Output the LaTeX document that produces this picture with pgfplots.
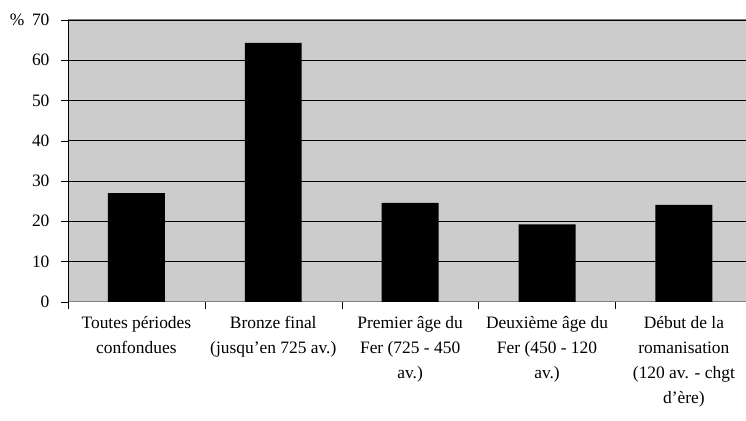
\documentclass[border=0pt]{standalone}
\usepackage{pgfplots}
\pgfplotsset{compat=1.18}
\usepackage{fontspec}
\setmainfont{Liberation Serif}
\definecolor{plotgray}{RGB}{204,204,204}
\definecolor{framegray}{RGB}{128,128,128}
\begin{document}
\begin{tikzpicture}
\begin{axis}[
    name=ax,
    scale only axis,
    width=678bp, height=282bp,
    xmin=-0.5, xmax=4.45,
    ymin=0, ymax=70,
    ytick={0,10,...,70},
    axis background/.style={fill=plotgray},
    axis x line*=bottom, axis y line*=left,
    axis line style={-},
    x axis line style={draw=framegray, line width=1pt},
    y axis line style={draw=black},
    ymajorgrids=true,
    grid style={black, line width=0.6pt},
    tick align=outside,
    major tick length=7bp,
    ytick style={black},
    xtick={0,1,2,3,4},
    xtick style={draw=none},
    extra x ticks={-0.5,0.5,1.5,2.5,3.5},
    extra x tick labels={},
    extra x tick style={grid=none, xtick style={draw=black}},
    extra y ticks={70},
    extra y tick labels={},
    extra y tick style={grid style={framegray, line width=1pt}},
    xticklabels={
        {Toutes périodes\\confondues},
        {Bronze final\\(jusqu'en 725 av.)},
        {Premier âge du\\Fer (725 - 450\\av.)},
        {Deuxième âge du\\Fer (450 - 120\\av.)},
        {Début de la\\romanisation\\(120 av. - chgt\\d'ère)}},
    xticklabel style={align=center, font=\fontsize{17.5}{25}\selectfont, anchor=north, yshift=-4bp},
    yticklabel style={font=\fontsize{17.5}{20}\selectfont, xshift=-8bp},
    /pgf/number format/assume math mode=true,
    ybar, bar width=0.416,
    clip=false,
]
\addplot[fill=black, draw=none] coordinates {(0,27.0) (1,64.3) (2,24.6) (3,19.2) (4,24.1)};
\node[anchor=east, font=\fontsize{17.5}{20}\selectfont] at (rel axis cs:0,1) [xshift=-40bp] {\%};
\end{axis}
\path ([xshift=-68bp,yshift=-119bp]ax.south west) rectangle ([xshift=0bp,yshift=20bp]ax.north east);
\end{tikzpicture}
\end{document}
